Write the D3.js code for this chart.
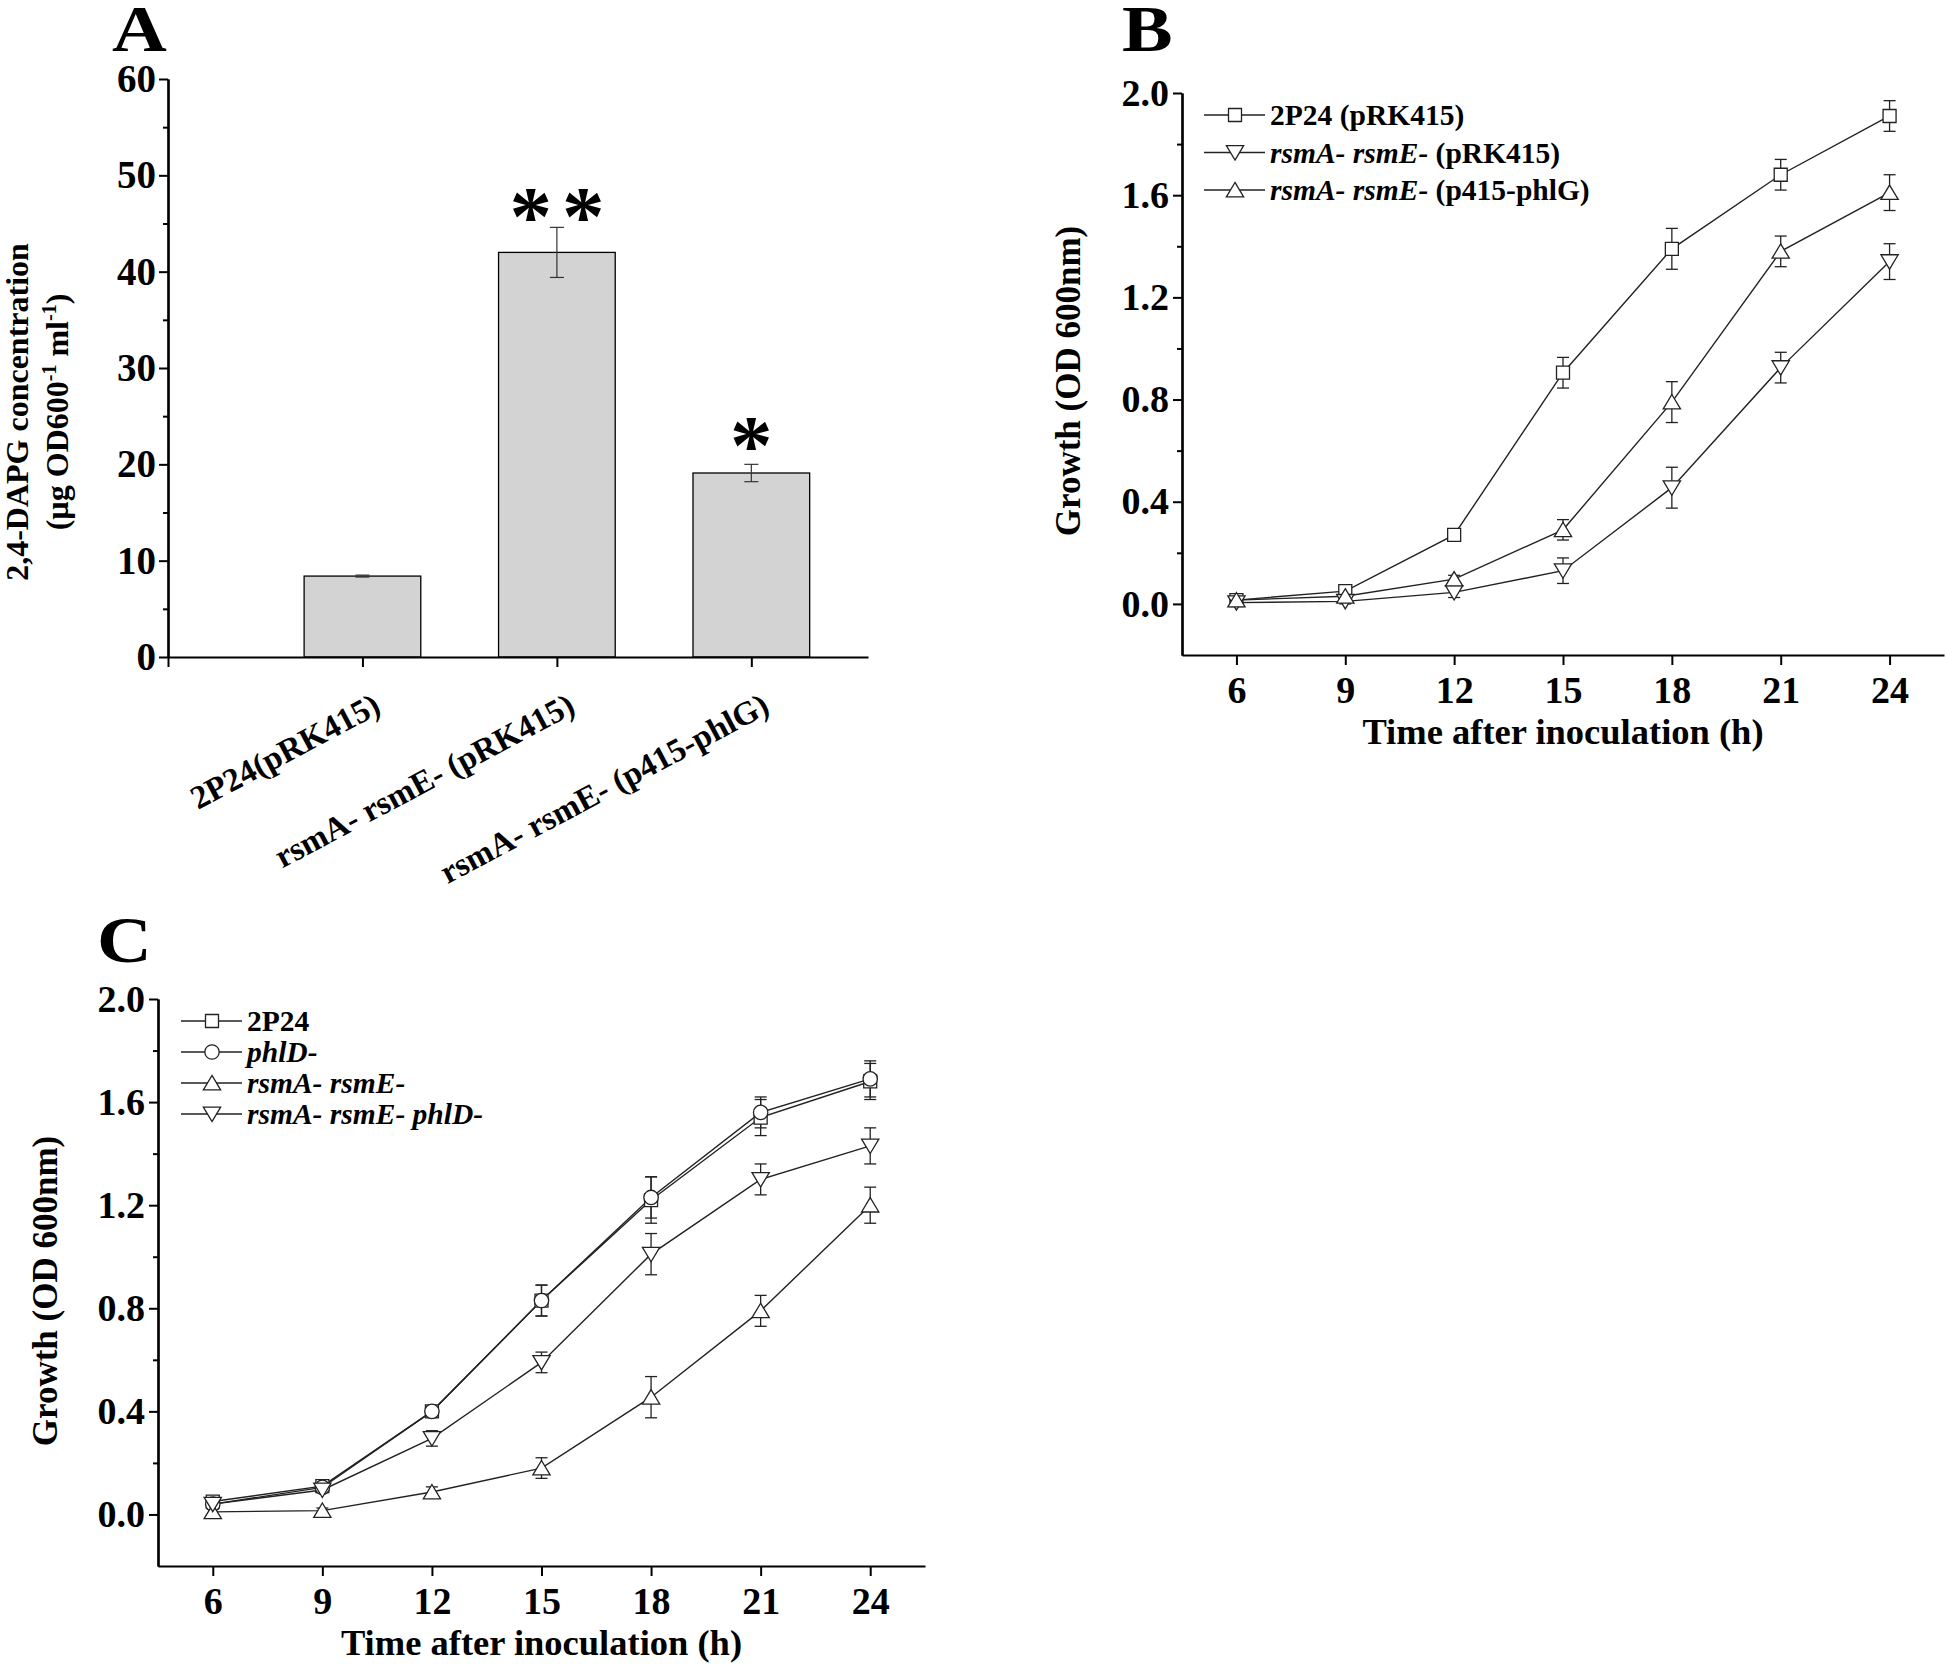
<!DOCTYPE html>
<html><head><meta charset="utf-8">
<script src="https://cdn.jsdelivr.net/npm/d3@7"></script>
<style>
body{margin:0;background:#fff;}
svg text{font-family:"Liberation Serif","Times New Roman",serif;font-weight:bold;fill:#000;}
</style></head><body>
<svg id="fig" width="1946" height="1666"></svg>
<script>
// ---------- Panel A data ----------
const categoriesA = ["2P24(pRK415)", "rsmA- rsmE- (pRK415)", "rsmA- rsmE- (p415-phlG)"];
const valuesA = [8.4, 42.0, 19.1];
const errorsA = [0.1, 2.6, 0.9];
const starsA = ["", "**", "*"];
const ticksA = [0, 10, 20, 30, 40, 50, 60];

// ---------- Panels B & C shared ----------
const timePoints = [6, 9, 12, 15, 18, 21, 24];
const growthTicks = [0.0, 0.4, 0.8, 1.2, 1.6, 2.0];

// ---------- Panel B data ----------
const b_2P24_pRK415 = [0.015, 0.05, 0.27, 0.905, 1.39, 1.68, 1.91];
const b_2P24_pRK415_err = [0.01, 0.01, 0.02, 0.06, 0.08, 0.06, 0.06];
const b_rsm_pRK415 = [0.005, 0.01, 0.045, 0.13, 0.455, 0.925, 1.34];
const b_rsm_pRK415_err = [0.01, 0.01, 0.02, 0.05, 0.08, 0.06, 0.07];
const b_rsm_phlG = [0.015, 0.03, 0.097, 0.29, 0.79, 1.38, 1.61];
const b_rsm_phlG_err = [0.01, 0.01, 0.015, 0.04, 0.08, 0.06, 0.07];

// ---------- Panel C data ----------
const c_2P24 = [0.05, 0.11, 0.40, 0.83, 1.22, 1.54, 1.68];
const c_2P24_err = [0.01, 0.01, 0.02, 0.06, 0.09, 0.07, 0.07];
const c_phlD = [0.04, 0.105, 0.40, 0.83, 1.23, 1.56, 1.69];
const c_phlD_err = [0.01, 0.01, 0.02, 0.06, 0.08, 0.06, 0.07];
const c_rsm = [0.01, 0.015, 0.087, 0.18, 0.455, 0.79, 1.20];
const c_rsm_err = [0.01, 0.01, 0.02, 0.04, 0.08, 0.06, 0.07];
const c_rsm_phlD = [0.04, 0.095, 0.295, 0.59, 1.01, 1.30, 1.43];
const c_rsm_phlD_err = [0.01, 0.01, 0.03, 0.04, 0.08, 0.06, 0.07];

const svg = d3.select("#fig");

function styleAxis(g, fs){
  g.selectAll("path.domain").attr("stroke","#000").attr("stroke-width",2.2);
  g.selectAll(".tick line").attr("stroke","#000").attr("stroke-width",2);
  g.selectAll(".tick text").attr("font-size",fs).attr("fill","#000")
    .attr("font-family",'"Liberation Serif","Times New Roman",serif').attr("font-weight","bold");
}
function panelLetter(x, y, t){
  svg.append("text").attr("transform",`translate(${x},${y}) scale(1.15,1)`).attr("font-size",66).text(t);
}

// ================= Panel A =================
const xA = d3.scaleLinear().domain([0, 3.6]).range([168, 868]);
const yA = d3.scaleLinear().domain([0, 60]).range([657, 79]);
const gA = svg.append("g");
gA.selectAll("rect.bar").data(valuesA).join("rect")
  .attr("x", (d,i)=>xA(i+1-0.3)).attr("width", xA(0.6)-xA(0))
  .attr("y", d=>yA(d)).attr("height", d=>yA(0)-yA(d))
  .attr("fill","#d3d3d3").attr("stroke","#000").attr("stroke-width",1.3);
valuesA.forEach((v,i)=>{
  const cx = xA(i+1), e = errorsA[i];
  gA.append("line").attr("x1",cx).attr("x2",cx).attr("y1",yA(v-e)).attr("y2",yA(v+e)).attr("stroke","#333").attr("stroke-width",1.2);
  [v-e, v+e].forEach(t=>gA.append("line").attr("x1",cx-7).attr("x2",cx+7).attr("y1",yA(t)).attr("y2",yA(t)).attr("stroke","#333").attr("stroke-width",1.2));
  if (starsA[i]) {
    const multi = starsA[i].length > 1;
    gA.append("text").attr("x", cx + (multi ? 5 : 0)).attr("y", yA(v+e) + (multi ? 18 : 10))
      .attr("text-anchor","middle").attr("font-size",85).attr("letter-spacing", multi ? 10 : 0)
      .text(starsA[i]);
  }
});
const yAxA = gA.append("g").attr("transform",`translate(${xA(0)},0)`)
  .call(d3.axisLeft(yA).tickValues(ticksA).tickSize(9).tickPadding(3).tickSizeOuter(0).tickFormat(d3.format("d")));
styleAxis(yAxA, 39);
const yAxAm = gA.append("g").attr("transform",`translate(${xA(0)},0)`)
  .call(d3.axisLeft(yA).tickValues(d3.range(5,60,10)).tickSize(5).tickSizeOuter(0).tickFormat(""));
styleAxis(yAxAm, 39);
const xAxA = gA.append("g").attr("transform",`translate(0,${yA(0)})`)
  .call(d3.axisBottom(xA).tickValues([0,1,2,3]).tickSize(10).tickSizeOuter(0).tickFormat(""));
styleAxis(xAxA, 30);
categoriesA.forEach((c,i)=>{
  gA.append("text").attr("transform",`translate(${xA(i+1)+20},712) rotate(-28)`)
    .attr("text-anchor","end").attr("font-size",33).text(c);
});
// y title
const tA = gA.append("g").attr("transform","translate(0,412)");
tA.append("text").attr("transform","translate(28,0) rotate(-90)").attr("text-anchor","middle").attr("font-size",32).text("2,4-DAPG concentration");
const t2 = tA.append("text").attr("transform","translate(68,0) rotate(-90)").attr("text-anchor","middle").attr("font-size",32);
t2.append("tspan").text("(µg OD600");
t2.append("tspan").attr("dy",-12).attr("font-size",20).text("-1");
t2.append("tspan").attr("dy",12).text(" ml");
t2.append("tspan").attr("dy",-12).attr("font-size",20).text("-1");
t2.append("tspan").attr("dy",12).text(")");
panelLetter(112, 51, "A");

// ================= Line panels =================
function markerPath(type, s){
  if (type==="square") return `M${-s},${-s}H${s}V${s}H${-s}Z`;
  if (type==="circle") return `M${-s},0A${s},${s} 0 1,0 ${s},0A${s},${s} 0 1,0 ${-s},0Z`;
  if (type==="up") return `M0,${-s*1.05}L${s*1.2},${s*0.95}L${-s*1.2},${s*0.95}Z`;
  if (type==="down") return `M0,${s*1.05}L${s*1.2},${-s*0.95}L${-s*1.2},${-s*0.95}Z`;
}
const markerSize = {square:6.5, circle:7.2, up:7.2, down:7.2};

function linePanel(cfg){
  const g = svg.append("g");
  const x = d3.scaleLinear().domain([4.5, 25.5]).range(cfg.xr);
  const y = d3.scaleLinear().domain([-0.2, 2.0]).range(cfg.yr);
  const line = d3.line().x((d,i)=>x(timePoints[i])).y(d=>y(d));
  cfg.series.forEach(s=>{
    g.append("path").datum(s.values).attr("d",line).attr("fill","none").attr("stroke","#222").attr("stroke-width",1.4);
  });
  cfg.series.forEach(s=>{
    s.values.forEach((v,i)=>{
      const cx = x(timePoints[i]), e = s.err[i];
      g.append("line").attr("x1",cx).attr("x2",cx).attr("y1",y(v-e)).attr("y2",y(v+e)).attr("stroke","#222").attr("stroke-width",1.3);
      [v-e, v+e].forEach(t=>g.append("line").attr("x1",cx-6).attr("x2",cx+6).attr("y1",y(t)).attr("y2",y(t)).attr("stroke","#222").attr("stroke-width",1.3));
    });
  });
  cfg.series.forEach(s=>{
    g.selectAll(null).data(s.values).join("path")
      .attr("transform",(d,i)=>`translate(${x(timePoints[i])},${y(d)})`)
      .attr("d", markerPath(s.marker, markerSize[s.marker]))
      .attr("fill","#fff").attr("stroke","#222").attr("stroke-width",1.3);
  });
  const yAx = g.append("g").attr("transform",`translate(${cfg.xr[0]},0)`)
    .call(d3.axisLeft(y).tickValues(growthTicks).tickSize(9).tickPadding(4).tickSizeOuter(0).tickFormat(d3.format(".1f")));
  styleAxis(yAx, 38);
  const yAxm = g.append("g").attr("transform",`translate(${cfg.xr[0]},0)`)
    .call(d3.axisLeft(y).tickValues([0.2,0.6,1.0,1.4,1.8]).tickSize(5).tickSizeOuter(0).tickFormat(""));
  styleAxis(yAxm, 38);
  const xAx = g.append("g").attr("transform",`translate(0,${cfg.yr[0]})`)
    .call(d3.axisBottom(x).tickValues(timePoints).tickSize(10).tickPadding(11).tickSizeOuter(0).tickFormat(d3.format("d")));
  styleAxis(xAx, 38);
  g.append("text").attr("x",(cfg.xr[0]+cfg.xr[1])/2).attr("y",cfg.yr[0]+89)
    .attr("text-anchor","middle").attr("font-size",36.5).text("Time after inoculation (h)");
  g.append("text").attr("transform",`translate(${cfg.ytx},${cfg.yty}) rotate(-90)`)
    .attr("text-anchor","middle").attr("font-size",35).text("Growth (OD 600nm)");
  cfg.series.forEach((s,k)=>{
    const ly = cfg.leg[1] + k*cfg.legStep;
    g.append("line").attr("x1",cfg.leg[0]-31).attr("x2",cfg.leg[0]+30).attr("y1",ly).attr("y2",ly).attr("stroke","#222").attr("stroke-width",1.4);
    g.append("path").attr("transform",`translate(${cfg.leg[0]},${ly})`).attr("d",markerPath(s.marker, markerSize[s.marker]))
      .attr("fill","#fff").attr("stroke","#222").attr("stroke-width",1.3);
    const t = g.append("text").attr("x",cfg.leg[0]+35).attr("y",ly+10).attr("font-size",29.5);
    s.label.forEach(([txt,it])=>t.append("tspan").attr("font-style",it?"italic":"normal").text(txt));
  });
  panelLetter(cfg.letter[0], cfg.letter[1], cfg.letterText);
}

linePanel({
  xr:[1182, 1944], yr:[655, 93], ytx:1080, yty:381,
  leg:[1235, 115], legStep:37.5, letter:[1122,51], letterText:"B",
  series:[
    {values:b_2P24_pRK415, err:b_2P24_pRK415_err, marker:"square", label:[["2P24 (pRK415)",false]]},
    {values:b_rsm_pRK415, err:b_rsm_pRK415_err, marker:"down", label:[["rsmA-",true],[" ",false],["rsmE-",true],[" (pRK415)",false]]},
    {values:b_rsm_phlG, err:b_rsm_phlG_err, marker:"up", label:[["rsmA-",true],[" ",false],["rsmE-",true],[" (p415-phlG)",false]]}
  ]
});

linePanel({
  xr:[158, 925], yr:[1566, 999], ytx:57, yty:1291,
  leg:[212, 1021], legStep:31, letter:[97,962], letterText:"C",
  series:[
    {values:c_2P24, err:c_2P24_err, marker:"square", label:[["2P24",false]]},
    {values:c_phlD, err:c_phlD_err, marker:"circle", label:[["phlD-",true]]},
    {values:c_rsm, err:c_rsm_err, marker:"up", label:[["rsmA-",true],[" ",false],["rsmE-",true]]},
    {values:c_rsm_phlD, err:c_rsm_phlD_err, marker:"down", label:[["rsmA-",true],[" ",false],["rsmE-",true],[" ",false],["phlD-",true]]}
  ]
});
</script>
</body></html>
